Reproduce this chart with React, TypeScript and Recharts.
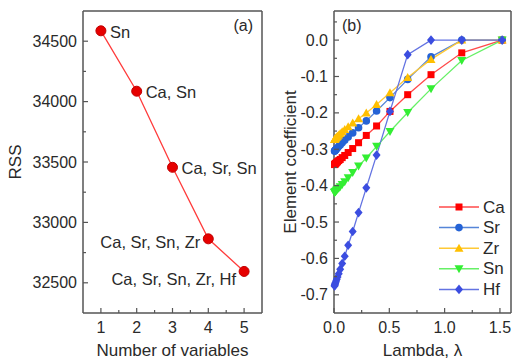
import React from "react";
import { LineChart, Line, XAxis, YAxis, LabelList, Label } from "recharts";

// panel (a): best subset RSS
const NUM_VARS = [1, 2, 3, 4, 5];
const RSS = [34586, 34086, 33456, 32864, 32594];
const SUBSETS = ["Sn", "Ca, Sn", "Ca, Sr, Sn", "Ca, Sr, Sn, Zr", "Ca, Sr, Sn, Zr, Hf"];
const RSS_TICKS = [32500, 33000, 33500, 34000, 34500];
const RSS_MINOR = [32750, 33250, 33750, 34250];
const VARS_MINOR = [1.5, 2.5, 3.5, 4.5];

// panel (b): lasso path
const LAMBDA = [1.52, 1.155, 0.877, 0.666, 0.506, 0.385, 0.292, 0.222, 0.169, 0.128, 0.097, 0.074, 0.056, 0.043, 0.032, 0.025, 0.019, 0.014, 0.011, 0.008, 0.006, 0.005];
const CA = [0, -0.035, -0.095, -0.15, -0.196, -0.236, -0.262, -0.282, -0.298, -0.309, -0.317, -0.323, -0.328, -0.331, -0.334, -0.336, -0.338, -0.339, -0.34, -0.341, -0.342, -0.342];
const SR = [0, 0, -0.046, -0.108, -0.158, -0.195, -0.222, -0.241, -0.255, -0.266, -0.275, -0.282, -0.288, -0.292, -0.296, -0.298, -0.3, -0.302, -0.303, -0.304, -0.305, -0.305];
const ZR = [0, 0, -0.053, -0.103, -0.145, -0.177, -0.2, -0.216, -0.228, -0.238, -0.246, -0.252, -0.257, -0.261, -0.264, -0.266, -0.268, -0.27, -0.271, -0.272, -0.273, -0.273];
const SN = [0, -0.056, -0.134, -0.199, -0.251, -0.292, -0.324, -0.346, -0.364, -0.378, -0.389, -0.397, -0.403, -0.407, -0.41, -0.412, -0.414, -0.416, -0.417, -0.418, -0.418, -0.419];
const HF = [0, 0, 0, -0.04, -0.196, -0.316, -0.406, -0.474, -0.526, -0.564, -0.594, -0.614, -0.63, -0.642, -0.651, -0.657, -0.662, -0.666, -0.669, -0.672, -0.674, -0.676];
const LAMBDA_TICKS = [0, 0.5, 1, 1.5];
const LAMBDA_MINOR = [0.25, 0.75, 1.25];
const COEF_TICKS = [0, -0.1, -0.2, -0.3, -0.4, -0.5, -0.6, -0.7];
const COEF_MINOR = [0.05, -0.05, -0.15, -0.25, -0.35, -0.45, -0.55, -0.65];

const FONT = '"Liberation Sans", Arial, sans-serif';
const TXT = "#2a2a2a";
const AXIS = "#555";

const SERIES = [
  { key: "Ca", values: CA, color: "#ff0000", line: "#ff4a4a", shape: "square" },
  { key: "Sr", values: SR, color: "#2563d6", line: "#5585d8", shape: "circle" },
  { key: "Zr", values: ZR, color: "#ffbf00", line: "#ffc935", shape: "up" },
  { key: "Sn", values: SN, color: "#33ee33", line: "#66f066", shape: "down" },
  { key: "Hf", values: HF, color: "#3b4de0", line: "#6373e2", shape: "diamond" },
];

const rssData = NUM_VARS.map((n, i) => ({ n, rss: RSS[i], name: SUBSETS[i] }));
const lassoData = LAMBDA.map((l, i) => {
  const row: Record<string, number> = { lambda: l };
  SERIES.forEach((s) => (row[s.key] = s.values[i]));
  return row;
});

function Marker({ cx, cy, shape, color }: any) {
  if (cx == null || cy == null) return <g />;
  switch (shape) {
    case "square":
      return <rect x={cx - 3.5} y={cy - 3.5} width={7} height={7} fill={color} />;
    case "circle":
      return <circle cx={cx} cy={cy} r={3.8} fill={color} />;
    case "up":
      return <polygon points={`${cx},${cy - 4.5} ${cx - 4.5},${cy + 3.5} ${cx + 4.5},${cy + 3.5}`} fill={color} />;
    case "down":
      return <polygon points={`${cx},${cy + 4.5} ${cx - 4.5},${cy - 3.5} ${cx + 4.5},${cy - 3.5}`} fill={color} />;
    default:
      return <polygon points={`${cx},${cy - 4.8} ${cx + 4},${cy} ${cx},${cy + 4.8} ${cx - 4},${cy}`} fill={color} />;
  }
}

const bottomTick = (majors: number[], fmt: (v: number) => string) => (props: any) => {
  const { x, y, payload } = props;
  const major = majors.some((m) => Math.abs(m - payload.value) < 1e-9);
  return (
    <g>
      <line x1={x} x2={x} y1={y} y2={y - (major ? 5 : 3)} stroke={AXIS} strokeWidth={1.2} />
      {major && (
        <text x={x} y={y + 20} textAnchor="middle" fontSize={16} fontFamily={FONT} fill={TXT}>
          {fmt(payload.value)}
        </text>
      )}
    </g>
  );
};

const leftTick = (majors: number[], fmt: (v: number) => string) => (props: any) => {
  const { x, y, payload } = props;
  const major = majors.some((m) => Math.abs(m - payload.value) < 1e-9);
  return (
    <g>
      <line x1={x} x2={x + (major ? 5 : 3)} y1={y} y2={y} stroke={AXIS} strokeWidth={1.2} />
      {major && (
        <text x={x - 6} y={y + 5.5} textAnchor="end" fontSize={16} fontFamily={FONT} fill={TXT}>
          {fmt(payload.value)}
        </text>
      )}
    </g>
  );
};

const yTitle = (text: string, xpos: number) => (props: any) => {
  const { viewBox } = props;
  const cy = viewBox.y + viewBox.height / 2;
  return (
    <text x={xpos} y={cy} transform={`rotate(-90 ${xpos} ${cy})`} textAnchor="middle" dominantBaseline="central" fontSize={17} fontFamily={FONT} fill={TXT}>
      {text}
    </text>
  );
};

const xTitle = (text: string) => (props: any) => {
  const { viewBox } = props;
  return (
    <text x={viewBox.x + viewBox.width / 2} y={viewBox.y + 43} textAnchor="middle" fontSize={17} fontFamily={FONT} fill={TXT}>
      {text}
    </text>
  );
};

const panelTag = (text: string, side: "left" | "right") => (props: any) => {
  const { viewBox } = props;
  const x = side === "right" ? viewBox.x + viewBox.width - 9 : viewBox.x + 8;
  return (
    <text x={x} y={viewBox.y + viewBox.height + 20} textAnchor={side === "right" ? "end" : "start"} fontSize={16} fontFamily={FONT} fill={TXT}>
      {text}
    </text>
  );
};

const SubsetLabel = (props: any) => {
  const { x, y, index, value } = props;
  const left = index >= 3;
  const dy = index === 4 ? 8 : index === 3 ? 3 : 1;
  return (
    <text x={left ? x - 8 : x + 9} y={y + dy} textAnchor={left ? "end" : "start"} dominantBaseline="central" fontSize={16.5} fontFamily={FONT} fill={TXT}>
      {value}
    </text>
  );
};

const LassoLegend = () => (
  <svg width={80} height={104} style={{ display: "block" }}>
    {SERIES.map((s, i) => {
      const cy = 10 + i * 20.6;
      return (
        <g key={s.key}>
          <line x1={0} x2={40} y1={cy} y2={cy} stroke={s.line} strokeWidth={1.5} />
          <Marker cx={20} cy={cy} shape={s.shape} color={s.color} />
          <text x={44} y={cy} dominantBaseline="central" fontSize={17} fontFamily={FONT} fill={TXT}>
            {s.key}
          </text>
        </g>
      );
    })}
  </svg>
);

export default function App() {
  return (
    <div style={{ position: "absolute", left: 0, top: 0, width: 525, height: 362, background: "#fff" }}>
      <div style={{ position: "absolute", left: 0, top: 0 }}>
        <LineChart width={263} height={362} data={rssData} margin={{ top: 10, right: 0, bottom: 0, left: 0 }}>
          <XAxis dataKey="n" type="number" domain={[0.5, 5.5]} ticks={[...NUM_VARS, ...VARS_MINOR]} interval={0} height={49} tickSize={0} tickMargin={0} tickLine={false} axisLine={{ stroke: AXIS, strokeWidth: 1.5 }} tick={bottomTick(NUM_VARS, (v) => String(v))}>
            <Label content={xTitle("Number of variables")} />
          </XAxis>
          <YAxis type="number" domain={[32250, 34750]} ticks={[...RSS_TICKS, ...RSS_MINOR]} interval={0} width={83} tickSize={0} tickMargin={0} tickLine={false} axisLine={{ stroke: AXIS, strokeWidth: 1.5 }} tick={leftTick(RSS_TICKS, (v) => String(v))}>
            <Label content={yTitle("RSS", 15)} />
          </YAxis>
          <XAxis xAxisId="top" orientation="top" type="number" domain={[0.5, 5.5]} height={1} tick={false} tickLine={false} axisLine={{ stroke: AXIS, strokeWidth: 1.5 }}>
            <Label content={panelTag("(a)", "right")} />
          </XAxis>
          <YAxis yAxisId="right" orientation="right" type="number" domain={[32250, 34750]} width={1} tick={false} tickLine={false} axisLine={{ stroke: AXIS, strokeWidth: 1.5 }} />
          <Line dataKey="rss" stroke="#ff3b3b" strokeWidth={1.3} dot={{ r: 5, fill: "#e60000", stroke: "#c00000", strokeWidth: 1 }} isAnimationActive={false}>
            <LabelList dataKey="name" content={SubsetLabel} />
          </Line>
        </LineChart>
      </div>
      <div style={{ position: "absolute", left: 262, top: 0 }}>
        <LineChart width={263} height={362} data={lassoData} margin={{ top: 10, right: 13, bottom: 0, left: 0 }}>
          <XAxis dataKey="lambda" type="number" domain={[0, 1.6]} ticks={[...LAMBDA_TICKS, ...LAMBDA_MINOR]} interval={0} height={49} tickSize={0} tickMargin={0} tickLine={false} axisLine={{ stroke: AXIS, strokeWidth: 1.5 }} tick={bottomTick(LAMBDA_TICKS, (v) => v.toFixed(1))}>
            <Label content={xTitle("Lambda, \u03bb")} />
          </XAxis>
          <YAxis type="number" domain={[-0.75, 0.08]} ticks={[...COEF_TICKS, ...COEF_MINOR]} interval={0} width={72} tickSize={0} tickMargin={0} tickLine={false} axisLine={{ stroke: AXIS, strokeWidth: 1.5 }} tick={leftTick(COEF_TICKS, (v) => (Math.abs(v) < 1e-9 ? "0.0" : v.toFixed(1)))}>
            <Label content={yTitle("Element coefficient", 28)} />
          </YAxis>
          <XAxis xAxisId="top" orientation="top" type="number" domain={[0, 1.6]} height={1} tick={false} tickLine={false} axisLine={{ stroke: AXIS, strokeWidth: 1.5 }}>
            <Label content={panelTag("(b)", "left")} />
          </XAxis>
          <YAxis yAxisId="right" orientation="right" type="number" domain={[-0.75, 0.08]} width={1} tick={false} tickLine={false} axisLine={{ stroke: AXIS, strokeWidth: 1.5 }} />
          {SERIES.map((s) => (
            <Line
              key={s.key}
              dataKey={s.key}
              stroke={s.line}
              strokeWidth={1.3}
              isAnimationActive={false}
              dot={(p: any) => <Marker key={`${s.key}-${p.index}`} cx={p.cx} cy={p.cy} shape={s.shape} color={s.color} />}
            />
          ))}
        </LineChart>
      </div>
      <div style={{ position: "absolute", left: 439, top: 197 }}>
        <LassoLegend />
      </div>
    </div>
  );
}
